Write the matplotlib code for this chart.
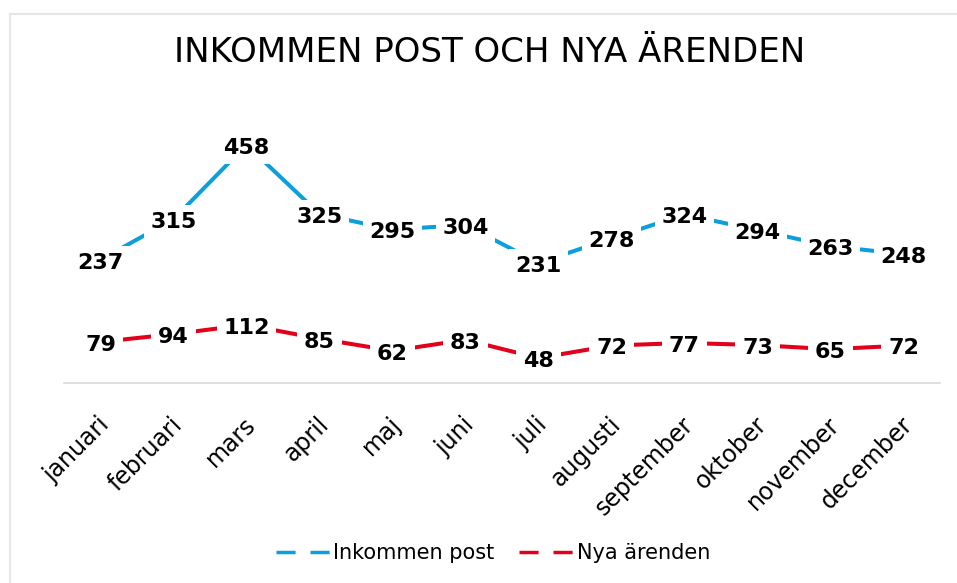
import matplotlib
matplotlib.use('Agg')
import matplotlib.pyplot as plt
import matplotlib.transforms as mtransforms
from matplotlib.lines import Line2D

months = ['januari', 'februari', 'mars', 'april', 'maj', 'juni', 'juli',
          'augusti', 'september', 'oktober', 'november', 'december']
inkommen_post = [237, 315, 458, 325, 295, 304, 231, 278, 324, 294, 263, 248]
nya_arenden = [79, 94, 112, 85, 62, 83, 48, 72, 77, 73, 65, 72]

blue = '#0b9fdc'
red = '#e2001a'
W, H = 957, 583

fig = plt.figure(figsize=(W / 100, H / 100), dpi=100)

# chart border (only top and left visible in the crop)
fig.add_artist(Line2D([10 / W, 1.0], [1 - 14 / H, 1 - 14 / H], color='#e6e6e6', lw=1.5))
fig.add_artist(Line2D([10 / W, 10 / W], [0, 1 - 14 / H], color='#e6e6e6', lw=1.5))

ax = fig.add_axes([64 / W, 200 / H, 876 / W, 260 / H])
x = list(range(len(months)))

series = [(inkommen_post, blue, 'Inkommen post'), (nya_arenden, red, 'Nya ärenden')]
for vals, col, name in series:
    ax.plot(x, vals, color=col, lw=2.9, solid_capstyle='butt', zorder=2)
    for xi, v in zip(x, vals):
        ax.annotate(str(v), (xi, v), xytext=(0, -2), textcoords='offset points',
                    ha='center', va='center', fontsize=16, fontweight='bold',
                    bbox=dict(boxstyle='square,pad=0.3', fc='white', ec='none'),
                    zorder=3)

ax.set_xlim(-0.5, 11.5)
ax.set_ylim(0, 500)
ax.set_yticks([])
for s in ['top', 'right', 'left']:
    ax.spines[s].set_visible(False)
ax.spines['bottom'].set_color('#d9d9d9')
ax.spines['bottom'].set_linewidth(1.2)

ax.set_xticks(x)
ax.set_xticklabels(months, rotation=45, ha='right', va='top', fontsize=17)
ax.tick_params(axis='x', length=0, pad=21)
offset = mtransforms.ScaledTranslation(10 / 72, 0, fig.dpi_scale_trans)
for lbl in ax.get_xticklabels():
    lbl.set_transform(lbl.get_transform() + offset)

fig.text(490 / W, 1 - 53 / H, 'INKOMMEN POST OCH NYA ÄRENDEN', ha='center', va='center',
         fontsize=24.5)

handles = [Line2D([], [], color=blue, lw=2.5, linestyle=(0, (5.5, 4.3))),
           Line2D([], [], color=red, lw=2.5, linestyle=(0, (5.5, 4.3)))]
fig.legend(handles, [s[2] for s in series], loc='center', bbox_to_anchor=(493 / W, 1 - 553 / H),
           ncol=2, frameon=False, fontsize=15, handlelength=2.6, handletextpad=0.15,
           columnspacing=1.2)

fig.savefig('out.png', dpi=100)
